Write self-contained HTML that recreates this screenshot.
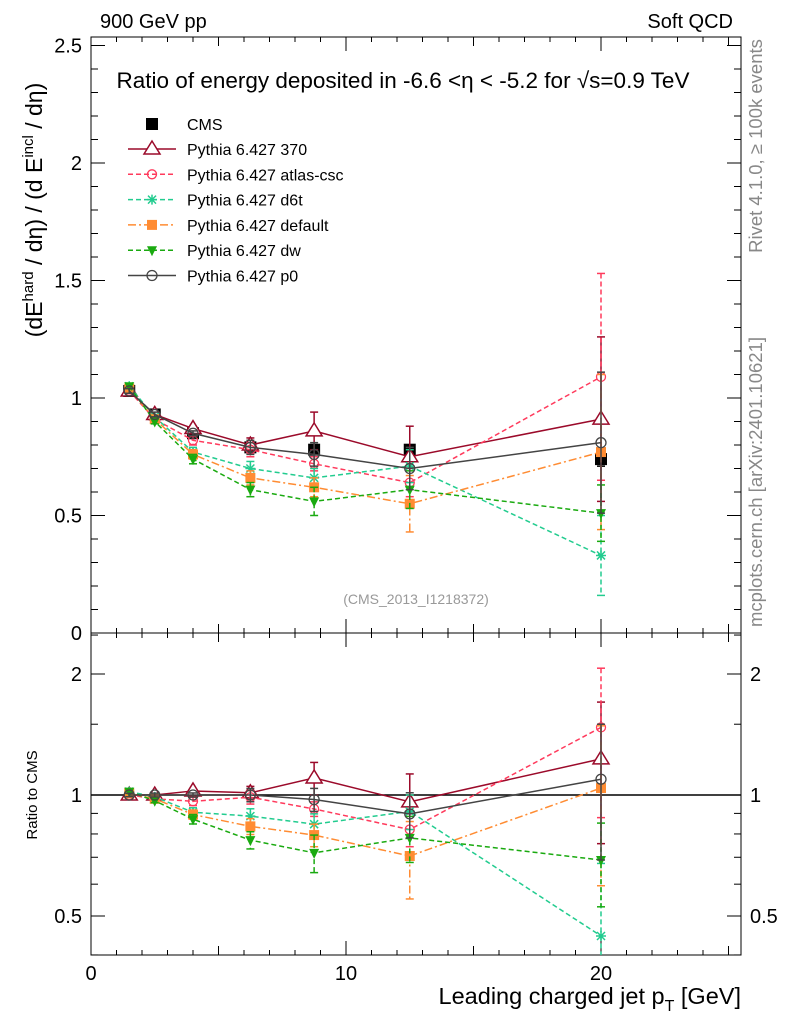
<!DOCTYPE html>
<html><head><meta charset="utf-8"><style>
body{margin:0;background:#fff}
svg{font-family:"Liberation Sans",sans-serif}
</style></head><body>
<svg id="c" width="786" height="1024" xmlns="http://www.w3.org/2000/svg">
<defs><clipPath id="cm"><rect x="91" y="37" width="650" height="596"/></clipPath><clipPath id="cr"><rect x="91" y="633" width="650" height="322"/></clipPath></defs>
<text x="100" y="28" font-size="20">900 GeV pp</text>
<text x="733" y="28" font-size="20" text-anchor="end">Soft QCD</text>
<text x="403" y="88" font-size="22.5" text-anchor="middle">Ratio of energy deposited in -6.6 &lt;η &lt; -5.2 for √s=0.9 TeV</text>
<text transform="translate(762,146) rotate(-90)" font-size="18.5" fill="#888" text-anchor="middle">Rivet 4.1.0, ≥ 100k events</text>
<text transform="translate(762,482) rotate(-90)" font-size="18.5" fill="#888" text-anchor="middle">mcplots.cern.ch [arXiv:2401.10621]</text>
<text x="416" y="604" font-size="14" fill="#999" text-anchor="middle">(CMS_2013_I1218372)</text>
<text transform="translate(42,210) rotate(-90)" font-size="23" text-anchor="middle">(dE<tspan dy="-9" font-size="15">hard</tspan><tspan dy="9"> / dη) / (d E</tspan><tspan dy="-9" font-size="15">incl</tspan><tspan dy="9"> / dη)</tspan></text>
<text transform="translate(37,795) rotate(-90)" font-size="15" text-anchor="middle">Ratio to CMS</text>
<text x="741" y="1004" font-size="23.5" text-anchor="end">Leading charged jet p<tspan dy="7" font-size="16">T</tspan><tspan dy="-7"> [GeV]</tspan></text>
<g id="g"></g>
</svg>
<script>
const xs=[1.5,2.5,4,6.25,8.75,12.5,20];
const cmsVals=[1.03,0.93,0.85,0.79,0.78,0.78,0.74];
const cmsErr=[0.01,0.01,0.01,0.02,0.02,0.02,0.03];
const v370=[1.03,0.93,0.87,0.80,0.86,0.75,0.91];
const e370=[0.01,0.01,0.01,0.03,0.08,0.13,0.35];
const vAtlas=[1.03,0.91,0.82,0.78,0.72,0.64,1.09];
const eAtlas=[0.01,0.01,0.02,0.03,0.03,0.06,0.44];
const vD6t=[1.05,0.92,0.77,0.70,0.66,0.71,0.33];
const eD6t=[0.01,0.01,0.02,0.03,0.04,0.07,0.17];
const vDef=[1.04,0.91,0.76,0.66,0.62,0.55,0.77];
const eDef=[0.01,0.01,0.02,0.03,0.04,0.12,0.33];
const vDw=[1.05,0.90,0.74,0.61,0.56,0.61,0.51];
const eDw=[0.01,0.01,0.02,0.03,0.06,0.08,0.12];
const vP0=[1.03,0.93,0.85,0.79,0.76,0.70,0.81];
const eP0=[0.01,0.01,0.01,0.03,0.05,0.09,0.30];
const series=[
 {name:"Pythia 6.427 370",v:v370,e:e370,c:"#9b0a2a",dash:"",m:"tri"},
 {name:"Pythia 6.427 atlas-csc",v:vAtlas,e:eAtlas,c:"#ff3a5c",dash:"5,3",m:"circ"},
 {name:"Pythia 6.427 d6t",v:vD6t,e:eD6t,c:"#22cc8f",dash:"5,3",m:"star"},
 {name:"Pythia 6.427 default",v:vDef,e:eDef,c:"#ff8c33",dash:"8,3,2,3",m:"sq"},
 {name:"Pythia 6.427 dw",v:vDw,e:eDw,c:"#1aaa10",dash:"5,3",m:"dtri"},
 {name:"Pythia 6.427 p0",v:vP0,e:eP0,c:"#444",dash:"",m:"ocirc"}];
const L=91,R=741,T=37,M=633,B=955;
const X=v=>L+v*25.5;
const Y=v=>M-v*235;
const Yr=r=>795-Math.log2(r)*121;
const g=document.getElementById('g');
function el(t,a,p){const e=document.createElementNS("http://www.w3.org/2000/svg",t);for(const k in a)e.setAttribute(k,a[k]);(p||g).appendChild(e);return e;}
let f=el('rect',{x:L,y:T,width:R-L,height:M-T,fill:"none",stroke:"#000","stroke-width":1});


f=el('rect',{x:L,y:M,width:R-L,height:B-M,fill:"none",stroke:"#000","stroke-width":1});


for(let i=0;i<=25;i++){const x=X(i),big=i%5==0;const h=(i%10==0)?14:(big?9:5);
 for(const [y0,dir] of [[M,-1],[T,1],[B,-1],[M,1]]) el('line',{x1:x,x2:x,y1:y0,y2:y0+dir*h,stroke:"#000"});
 if(i%10==0){const t=el('text',{x:x,y:980,"font-size":20,"text-anchor":"middle"});t.textContent=i;
 
 }}
for(let i=0;i<=25;i++){const v=i/10,y=Y(v),big=i%5==0,h=big?14:7;
 el('line',{x1:L,x2:L+h,y1:y,y2:y,stroke:"#000"});el('line',{x1:R,x2:R-h,y1:y,y2:y,stroke:"#000"});
 if(big){const t=el('text',{x:82,y:y+7,"font-size":20,"text-anchor":"end"});t.textContent=(v==0?"0":String(v));
 
 }}
const rt=[0.4,0.5,0.6,0.7,0.8,0.9,1,1.5,2,2.5];const rl=[0.5,1,2];
rt.forEach(r=>{const y=Yr(r),big=rl.includes(r),h=big?14:7;
 el('line',{x1:L,x2:L+h,y1:y,y2:y,stroke:"#000"});el('line',{x1:R,x2:R-h,y1:y,y2:y,stroke:"#000"});
 if(big){for(const [xx,an] of [[82,"end"],[750,"start"]]){const t=el('text',{x:xx,y:y+7,"font-size":20,"text-anchor":an});t.textContent=r;
 
 }}});
el('line',{x1:L,x2:R,y1:Yr(1),y2:Yr(1),stroke:"#000","stroke-width":1.5});
function marker(m,x,y,c,p){
 if(m=="tri")return el('polygon',{points:`${x},${y-8} ${x-8},${y+5} ${x+8},${y+5}`,fill:"#fff",stroke:c,"stroke-width":1.5},p);
 if(m=="dtri")return el('polygon',{points:`${x},${y+6} ${x-5},${y-4} ${x+5},${y-4}`,fill:c},p);
 if(m=="circ"||m=="ocirc")return el('circle',{cx:x,cy:y,r:m=="ocirc"?5:4.5,fill:"none",stroke:c,"stroke-width":1.3},p);
 if(m=="sq")return el('rect',{x:x-5,y:y-5,width:10,height:10,fill:c},p);
 if(m=="bsq")return el('rect',{x:x-6,y:y-6,width:12,height:12,fill:c},p);
 if(m=="star")return el('path',{d:`M${x-5},${y}H${x+5}M${x},${y-5}V${y+5}M${x-4},${y-4}L${x+4},${y+4}M${x-4},${y+4}L${x+4},${y-4}`,stroke:c,"stroke-width":1.5},p);}
function draw(vals,errs,c,dash,m,yf,name,lined,clip){
 const grp=el('g',{"clip-path":`url(#${clip})`});
 
 
 if(lined)el('polyline',{points:xs.map((x,i)=>X(x)+","+yf(vals[i],i)).join(" "),fill:"none",stroke:c,"stroke-width":1.5,"stroke-dasharray":dash},grp);
 xs.forEach((x,i)=>{const y1=yf(vals[i]+errs[i],i),y2=yf(Math.max(vals[i]-errs[i],0.001),i);
  el('line',{x1:X(x),x2:X(x),y1:y1,y2:y2,stroke:c,"stroke-width":1.5,"stroke-dasharray":dash},grp);
  el('line',{x1:X(x)-4,x2:X(x)+4,y1:y1,y2:y1,stroke:c,"stroke-width":1.5},grp);
  el('line',{x1:X(x)-4,x2:X(x)+4,y1:y2,y2:y2,stroke:c,"stroke-width":1.5},grp);
  marker(m,X(x),yf(vals[i],i),c,grp);});}
draw(cmsVals,cmsErr,"#000","","bsq",v=>Y(v),"cms-data",false,"cm");
series.forEach((s,k)=>{
 draw(s.v,s.e,s.c,s.dash,s.m,v=>Y(v),"series-"+k,true,"cm");
 draw(s.v,s.e,s.c,s.dash,s.m,(v,i)=>Yr(v/cmsVals[i]),"ratio-series-"+k,true,"cr");
 const ly=149+k*25.3;
 const lg=el('g',{});
 
 
 el('line',{x1:128,x2:176,y1:ly,y2:ly,stroke:s.c,"stroke-width":1.5,"stroke-dasharray":s.dash},lg);
 marker(s.m,152,ly,s.c,lg);
 const t=el('text',{x:187,y:ly+6,"font-size":16},lg);t.textContent=s.name;});
const lg=el('g',{});


marker("bsq",152,124,"#000",lg);
const t=el('text',{x:187,y:130,"font-size":16},lg);t.textContent="CMS";
</script>
</body></html>
